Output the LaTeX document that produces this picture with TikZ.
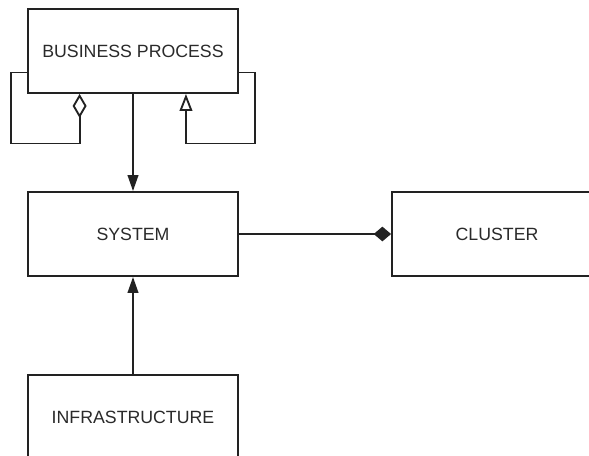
\documentclass[tikz,border=0pt]{standalone}
\usepackage{fontspec}
\setmainfont{Liberation Sans}
\usetikzlibrary{arrows.meta,calc}
\definecolor{ink}{HTML}{222222}
\definecolor{txt}{HTML}{2a2a2a}
\begin{document}
\begin{tikzpicture}[x=0.75pt,y=-0.75pt,
  box/.style={draw=ink, line width=1.4pt, rectangle, minimum width=157.5pt,
    minimum height=63pt, inner sep=0pt, text=txt, font=\fontsize{13.3pt}{16pt}\selectfont},
  conn/.style={draw=ink, line width=1.4pt},
  solidarrow/.style={conn, -{Triangle[length=12pt, width=8pt]}},
  hollowdiamond/.style={conn, -{Diamond[open, fill=white, length=18pt, width=10.5pt]}},
  hollowtri/.style={conn, -{Triangle[open, fill=white, length=12.75pt, width=9.5pt]}},
  soliddiamond/.style={conn, -{Diamond[length=13pt, width=11pt]}}]
  \useasboundingbox (0,0) rectangle (589,455);
  \clip (0,0) rectangle (589,455);
  \fill[white] (0,0) rectangle (589,455);

  % classes
  \node[box] (bp)  at (133,51)  {BUSINESS PROCESS};
  \node[box] (sys) at (133,234) {SYSTEM};
  \node[box] (cl)  at (497,234) {CLUSTER};
  \node[box] (inf) at (133,417) {INFRASTRUCTURE};

  % attachment points on the business process box
  \coordinate (bpL) at ($(bp.south west)!0.25!(bp.north west)$);
  \coordinate (bpR) at ($(bp.south east)!0.25!(bp.north east)$);
  \coordinate (bpA) at ($(bp.south west)!0.248!(bp.south east)$);
  \coordinate (bpG) at ($(bp.south west)!0.75!(bp.south east)$);

  % self-aggregation loop
  \draw[hollowdiamond] (bpL) -- ++(-16,0) -- ++(0,71) -| (bpA);
  % self-generalisation loop
  \draw[hollowtri] (bpR) -- ++(16,0) -- ++(0,71) -| (bpG);

  % associations
  \draw[solidarrow] (bp) -- (sys);
  \draw[solidarrow] (inf) -- (sys);
  \draw[soliddiamond] (sys) -- (cl);
\end{tikzpicture}
\end{document}
